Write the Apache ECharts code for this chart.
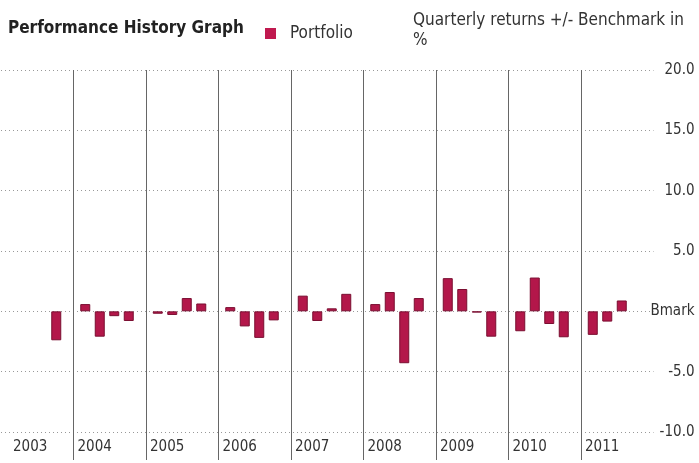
<!DOCTYPE html>
<html><head><meta charset="utf-8">
<script src="https://cdn.jsdelivr.net/npm/echarts@6/dist/echarts.min.js"></script>
<style>html,body{margin:0;padding:0;background:#fff}#c{width:699px;height:463px}</style>
</head><body><div id="c"></div>
<script>
const years = ['2003','2004','2005','2006','2007','2008','2009','2010','2011'];
const q1 = [null, 0.6, -0.2, 0.35, 1.3, 0.6, 2.75, -1.65, -1.95];
const q2 = [null, -2.1, -0.3, -1.25, -0.8, 1.6, 1.85, 2.8, -0.85];
const q3 = [null, -0.4, 1.1, -2.2, 0.25, -4.3, -0.1, -1.05, 0.9];
const q4 = [-2.4, -0.8, 0.65, -0.75, 1.45, 1.1, -2.1, -2.15, null];
const yTickValues = [-10, -5, 0, 5, 10, 15, 20];
const yTickLabels = ['-10.0', '-5.0', 'Bmark', '5.0', '10.0', '15.0', '20.0'];

const F = "'Liberation Sans Narrow','DejaVu Sans Condensed',sans-serif";
const BAR = '#b3174a', EDGE = '#7a0e31';
const chart = echarts.init(document.getElementById('c'));
const quarters = [q1, q2, q3, q4];
const series = quarters.map(d => ({
  type: 'bar', name: 'Portfolio', xAxisIndex: 0, data: d,
  barWidth: 10, barGap: '45%',
  itemStyle: {color: BAR, borderColor: EDGE, borderWidth: 1}
}));
series.push({type: 'bar', name: 'spacer', xAxisIndex: 0, data: years.map(() => null),
  barWidth: 0.5, barGap: '45%', silent: true});

chart.setOption({
  animation: false,
  title: [
    {text: 'Performance History Graph', left: 3, top: 15,
     textStyle: {fontFamily: F, fontWeight: 'bold', fontSize: 17, color: '#222'}},
    {text: 'Quarterly returns +/- Benchmark in\n%', left: 408, top: 6,
     textStyle: {fontFamily: F, fontWeight: 'normal', fontSize: 17, lineHeight: 20, color: '#333'}}
  ],
  legend: {data: ['Portfolio'], left: 260, top: 20, icon: 'rect', itemWidth: 11, itemHeight: 11,
    itemStyle: {borderWidth: 0, color: '#c0194f'},
    textStyle: {fontFamily: F, fontSize: 17, color: '#333', padding: [0, 0, 0, 9]}},
  grid: {left: 1, right: 45.5, top: 70, bottom: 31},
  xAxis: [
    {type: 'category', data: years, show: false},
    {type: 'value', min: 0, max: 9, interval: 1, position: 'bottom',
     axisLine: {show: false},
     axisTick: {show: true, length: 28, customValues: [1,2,3,4,5,6,7,8], lineStyle: {color: '#666'}},
     splitLine: {show: true, showMinLine: true, showMaxLine: true, lineStyle: {color: '#666', width: 1}},
     axisLabel: {customValues: [0,1,2,3,4,5,6,7,8], align: 'left', margin: 8, padding: [0,0,0,4],
       fontFamily: F, fontSize: 15, color: '#333',
       formatter: v => v === 0 ? '{f|' + years[0] + '}' : years[v],
       rich: {f: {padding: [0,0,0,8], fontFamily: F, fontSize: 15, color: '#333'}}}}
  ],
  yAxis: {type: 'value', position: 'right', min: -10, max: 20, interval: 5,
    axisLine: {show: false}, axisTick: {show: false},
    splitLine: {lineStyle: {type: [1, 3], color: '#999'}},
    axisLabel: {align: 'right', margin: 41, fontFamily: F, fontSize: 15, color: '#333',
      formatter: v => yTickLabels[yTickValues.indexOf(v)]}},
  series: series
});
</script></body></html>
